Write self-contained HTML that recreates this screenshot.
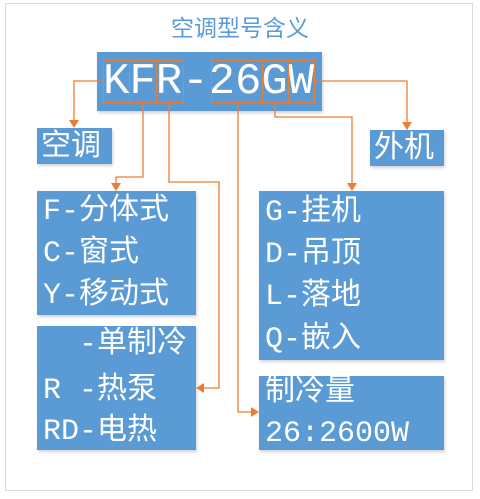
<!DOCTYPE html>
<html><head><meta charset="utf-8"><style>
html,body{margin:0;padding:0;background:#fff;}
body{width:480px;height:499px;position:relative;overflow:hidden;}
.frame{position:absolute;left:5px;top:3px;width:466px;height:486px;border:1.5px solid #dcdcdc;}
.b{position:absolute;background:#5b9bd5;box-shadow:1px 2px 3px rgba(0,0,0,0.18);color:#fff;font-family:"Liberation Mono","Noto Sans CJK SC",monospace;font-size:30px;white-space:pre;}
.t{position:absolute;left:0;width:480px;text-align:center;top:9px;color:#5b9bd5;font-family:"Liberation Sans","Noto Sans CJK SC",sans-serif;font-size:23px;}
.l{position:absolute;line-height:30px;}
.ob{position:absolute;border:1.3px solid #ed7d31;box-sizing:border-box;top:60px;height:43px;}
</style></head><body>
<div class="frame"></div>
<div class="t">空调型号含义</div>
<div class="b" style="left:97px;top:52px;width:225px;height:59px;"><div class="l" style="left:6px;top:13px;font-size:44px;line-height:34px;">KFR-26GW</div></div>
<div class="ob" style="left:103px;width:27px;"></div>
<div class="ob" style="left:129px;width:28px;"></div>
<div class="ob" style="left:156px;width:28px;"></div>
<div class="ob" style="left:211px;width:52px;"></div>
<div class="ob" style="left:262px;width:27px;"></div>
<div class="ob" style="left:288px;width:27px;"></div>
<div class="b" style="left:37px;top:128px;width:75px;height:36px;"><div class="l" style="left:4px;top:5px;">空调</div></div>
<div class="b" style="left:370px;top:130px;width:74px;height:36px;"><div class="l" style="left:4px;top:5px;">外机</div></div>
<div class="b" style="left:37px;top:191px;width:159px;height:124px;">
<div class="l" style="left:6px;top:6px;">F-分体式</div>
<div class="l" style="left:6px;top:48px;">C-窗式</div>
<div class="l" style="left:6px;top:90px;">Y-移动式</div></div>
<div class="b" style="left:37px;top:326px;width:159px;height:124px;">
<div class="l" style="left:6px;top:4px;">  -单制冷</div>
<div class="l" style="left:6px;top:50px;">R -热泵</div>
<div class="l" style="left:6px;top:91px;">RD-电热</div></div>
<div class="b" style="left:259px;top:191px;width:185px;height:169px;">
<div class="l" style="left:6px;top:7px;">G-挂机</div>
<div class="l" style="left:6px;top:49px;">D-吊顶</div>
<div class="l" style="left:6px;top:91px;">L-落地</div>
<div class="l" style="left:6px;top:134px;">Q-嵌入</div></div>
<div class="b" style="left:259px;top:376px;width:185px;height:74px;">
<div class="l" style="left:6px;top:2px;">制冷量</div>
<div class="l" style="left:6px;top:43px;">26:2600W</div></div>
<svg width="480" height="499" style="position:absolute;left:0;top:0;" fill="none" stroke="#ed7d31" stroke-width="1.3">
<polyline points="103,81 74,81 74,122"/>
<polygon points="69,120 79,120 74,128" fill="#ed7d31" stroke="none"/>
<polyline points="315,81 407,81 407,124"/>
<polygon points="402,122 412,122 407,130" fill="#ed7d31" stroke="none"/>
<polyline points="143,103 143,177 116,177 116,185"/>
<polygon points="111,183 121,183 116,191" fill="#ed7d31" stroke="none"/>
<polyline points="169,103 169,182 219,182 219,388 202,388"/>
<polygon points="204,383 204,393 196,388" fill="#ed7d31" stroke="none"/>
<polyline points="238,103 238,412 253,412"/>
<polygon points="251,407 251,417 259,412" fill="#ed7d31" stroke="none"/>
<polyline points="275,103 275,117 352,117 352,185"/>
<polygon points="347,183 357,183 352,191" fill="#ed7d31" stroke="none"/>
</svg>
</body></html>
